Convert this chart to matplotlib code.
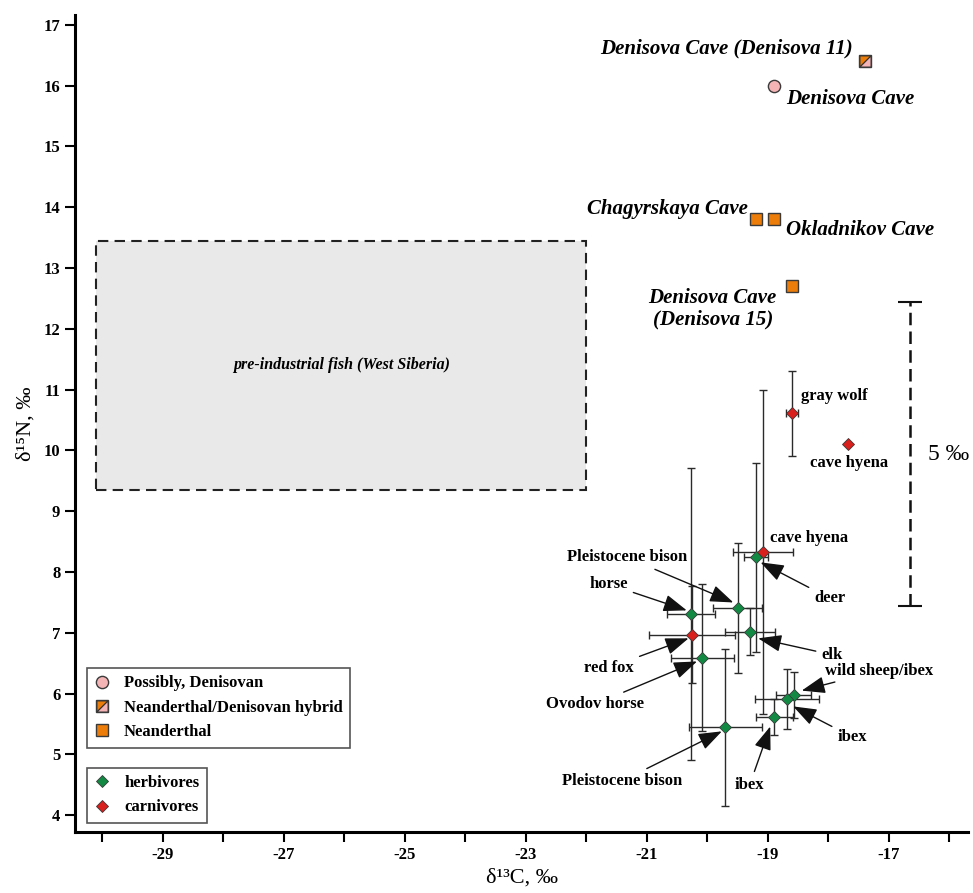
import numpy as np
import matplotlib
matplotlib.use("Agg")
import matplotlib.pyplot as plt
from matplotlib.path import Path
from matplotlib.patches import Rectangle
from matplotlib.lines import Line2D
from matplotlib.ticker import FixedLocator, NullFormatter

plt.rcParams["font.family"] = ["Liberation Serif", "DejaVu Serif"]
plt.rcParams["axes.unicode_minus"] = False

# hominin samples
site_names = ["Denisova Cave (Denisova 11)", "Denisova Cave", "Chagyrskaya Cave",
              "Okladnikov Cave", "Denisova Cave\n(Denisova 15)"]
site_d13c = [-17.4, -18.9, -19.2, -18.9, -18.6]
site_d15n = [16.4, 16.0, 13.8, 13.8, 12.7]
site_group = ["hybrid", "denisovan", "neanderthal", "neanderthal", "neanderthal"]

# fauna (mean, sd)
fauna_names = ["gray wolf", "cave hyena", "cave hyena", "deer", "Pleistocene bison",
               "horse", "red fox", "elk", "Ovodov horse", "wild sheep/ibex",
               "ibex", "ibex", "Pleistocene bison"]
fauna_d13c = [-18.60, -17.67, -19.08, -19.20, -19.50, -20.27, -20.26, -19.29,
              -20.08, -18.57, -18.69, -18.89, -19.70]
fauna_d15n = [10.61, 10.10, 8.33, 8.24, 7.41, 7.31, 6.97, 7.02, 6.59, 5.98,
              5.91, 5.62, 5.45]
fauna_sd13c = [0.10, 0.0, 0.49, 0.20, 0.41, 0.40, 0.71, 0.41, 0.52, 0.29, 0.53, 0.30, 0.60]
fauna_sd15n = [0.70, 0.0, 2.67, 1.55, 1.07, 2.40, 0.80, 0.39, 1.21, 0.38, 0.49, 0.30, 1.29]
fauna_diet = ["carn", "carn", "carn", "herb", "herb", "herb", "carn", "herb",
              "herb", "herb", "herb", "herb", "herb"]

# pre-industrial fish range
fish_d13c = [-30.1, -22.0]
fish_d15n = [9.35, 13.45]

GREEN = "#138a43"
RED = "#d9201c"
ORANGE = "#ec7d0a"
PINK = "#f4b3b5"
EDGE = "#3a3a3a"

fig = plt.figure(figsize=(9.73, 8.93), dpi=100)
ax = fig.add_axes([0.077, 0.068, 0.918, 0.915])
ax.set_xlim(-30.45, -15.69)
ax.set_ylim(3.72, 17.16)

# fish box
ax.add_patch(Rectangle((fish_d13c[0], fish_d15n[0]), fish_d13c[1] - fish_d13c[0],
                       fish_d15n[1] - fish_d15n[0], facecolor="#e9e9e9",
                       edgecolor="#222", linestyle=(0, (5, 3)), lw=1.5, zorder=1))
ax.text(np.mean(fish_d13c), np.mean(fish_d15n), "pre-industrial fish (West Siberia)",
        ha="center", va="center", fontsize=11.5, fontweight="bold", fontstyle="italic")

# fauna with error bars
for x, y, sx, sy in zip(fauna_d13c, fauna_d15n, fauna_sd13c, fauna_sd15n):
    if sx > 0 or sy > 0:
        ax.errorbar(x, y, xerr=sx, yerr=sy, fmt="none", ecolor="#2a2a2a",
                    elinewidth=1.0, capsize=2.8, capthick=1.0, zorder=2)
for x, y, d in zip(fauna_d13c, fauna_d15n, fauna_diet):
    ax.plot(x, y, marker="D", ms=5.8, mfc=GREEN if d == "herb" else RED,
            mec=EDGE, mew=0.6, ls="none", zorder=4)

# hominins
ul = Path([(-1, -1), (-1, 1), (1, 1), (-1, -1)])
lr = Path([(-1, -1), (1, -1), (1, 1), (-1, -1)])


def hybrid_handles(x=None, y=None):
    xs = [] if x is None else [x]
    ys = [] if y is None else [y]
    out = [Line2D(xs, ys, ls="none", marker=ul, mfc=ORANGE, ms=8.2, mec="#333", mew=0.8),
           Line2D(xs, ys, ls="none", marker=lr, mfc=PINK, ms=8.2, mec="#333", mew=0.8),
           Line2D(xs, ys, ls="none", marker="s", ms=8.2, mfc="none", mec=EDGE, mew=1.0)]
    return out


for x, y, g in zip(site_d13c, site_d15n, site_group):
    if g == "hybrid":
        for h in hybrid_handles(x, y):
            h.set_zorder(5)
            ax.add_line(h)
    elif g == "denisovan":
        ax.plot(x, y, "o", ms=8.8, mfc=PINK, mec=EDGE, mew=1.0, zorder=5)
    else:
        ax.plot(x, y, "s", ms=8.2, mfc=ORANGE, mec=EDGE, mew=1.0, zorder=5)

site_font = dict(fontsize=15, fontweight="bold", fontstyle="italic")
ax.text(-17.59, 16.61, site_names[0], ha="right", va="center", **site_font)
ax.text(-18.70, 15.78, site_names[1], ha="left", va="center", **site_font)
ax.text(-19.33, 13.97, site_names[2], ha="right", va="center", **site_font)
ax.text(-18.70, 13.63, site_names[3], ha="left", va="center", **site_font)
ax.text(-19.91, 12.33, site_names[4], ha="center", va="center", linespacing=1.1,
        **site_font)

# fauna labels: index, text position, arrow tip (None = plain label)
lab_font = dict(fontsize=12, fontweight="bold")
fauna_labels = [
    (0, -18.46, 10.89, "left", None),
    (1, -17.65, 9.79, "center", None),
    (2, -18.96, 8.56, "left", None),
    (3, -17.98, 7.57, "center", (-19.12, 8.16)),
    (4, -21.33, 8.24, "center", (-19.57, 7.50)),
    (5, -21.63, 7.80, "center", (-20.34, 7.37)),
    (6, -21.62, 6.43, "center", (-20.31, 6.91)),
    (7, -17.94, 6.64, "center", (-19.16, 6.91)),
    (8, -21.85, 5.83, "center", (-20.17, 6.53)),
    (9, -17.16, 6.38, "center", (-18.44, 6.05)),
    (10, -17.61, 5.29, "center", (-18.58, 5.79)),
    (12, -21.40, 4.57, "center", (-19.76, 5.38)),
    (11, -19.30, 4.50, "center", (-18.96, 5.46)),
]
for i, tx, ty, ha, tip in fauna_labels:
    if tip is None:
        ax.text(tx, ty, fauna_names[i], ha=ha, va="center", **lab_font)
    else:
        ax.annotate(fauna_names[i], xy=tip, xytext=(tx, ty), ha=ha, va="center",
                    arrowprops=dict(arrowstyle="-|>,head_length=0.9,head_width=0.33",
                                    mutation_scale=16, color="#111", lw=1.0,
                                    shrinkA=2, shrinkB=0), zorder=6, **lab_font)

# 5 permil scale bar
ax.vlines(-16.65, 7.45, 12.45, colors="#111", lw=1.8, linestyles=(0, (5, 2.5)))
ax.hlines([7.45, 12.45], -16.65 - 0.2, -16.65 + 0.2, colors="#111", lw=1.5)
ax.text(-16.02, 9.93, "5 ‰", ha="center", va="center", fontsize=17)

# legends
leg_font = dict(size=12, weight="bold")
leg_kw = dict(loc="lower left", borderaxespad=0, prop=leg_font, frameon=True,
              fancybox=False, framealpha=1, edgecolor="#555", handlelength=1.0,
              handletextpad=0.8, labelspacing=0.5, borderpad=0.45)
h1 = [Line2D([], [], ls="none", marker="o", ms=8.8, mfc=PINK, mec=EDGE, mew=1.0),
      tuple(hybrid_handles()),
      Line2D([], [], ls="none", marker="s", ms=8.2, mfc=ORANGE, mec=EDGE, mew=1.0)]
leg1 = ax.legend(h1, ["Possibly, Denisovan", "Neanderthal/Denisovan hybrid", "Neanderthal"],
                 bbox_to_anchor=(0.0131, 0.1037), **leg_kw)
leg1.get_frame().set_linewidth(1.2)
ax.add_artist(leg1)
h2 = [Line2D([], [], ls="none", marker="D", ms=5.8, mfc=GREEN, mec=EDGE, mew=0.6),
      Line2D([], [], ls="none", marker="D", ms=5.8, mfc=RED, mec=EDGE, mew=0.6)]
leg2 = ax.legend(h2, ["herbivores", "carnivores"], bbox_to_anchor=(0.0131, 0.0114),
                 **leg_kw)
leg2.get_frame().set_linewidth(1.2)

# axes styling
for s in ["top", "right"]:
    ax.spines[s].set_visible(False)
for s in ["left", "bottom"]:
    ax.spines[s].set_linewidth(2.2)
ax.set_yticks(np.arange(4, 18))
ax.set_xticks(np.arange(-29, -16, 2))
ax.xaxis.set_minor_locator(FixedLocator(np.arange(-30, -15, 2)))
ax.xaxis.set_minor_formatter(NullFormatter())
ax.tick_params(which="both", direction="out", length=7, width=1.5, labelsize=12)
for lab in ax.get_xticklabels() + ax.get_yticklabels():
    lab.set_fontweight("bold")
ax.set_xlabel("δ¹³C, ‰", fontsize=16, labelpad=4)
ax.set_ylabel("δ¹⁵N, ‰", fontsize=16, labelpad=6)

fig.savefig("out.png", dpi=100)
